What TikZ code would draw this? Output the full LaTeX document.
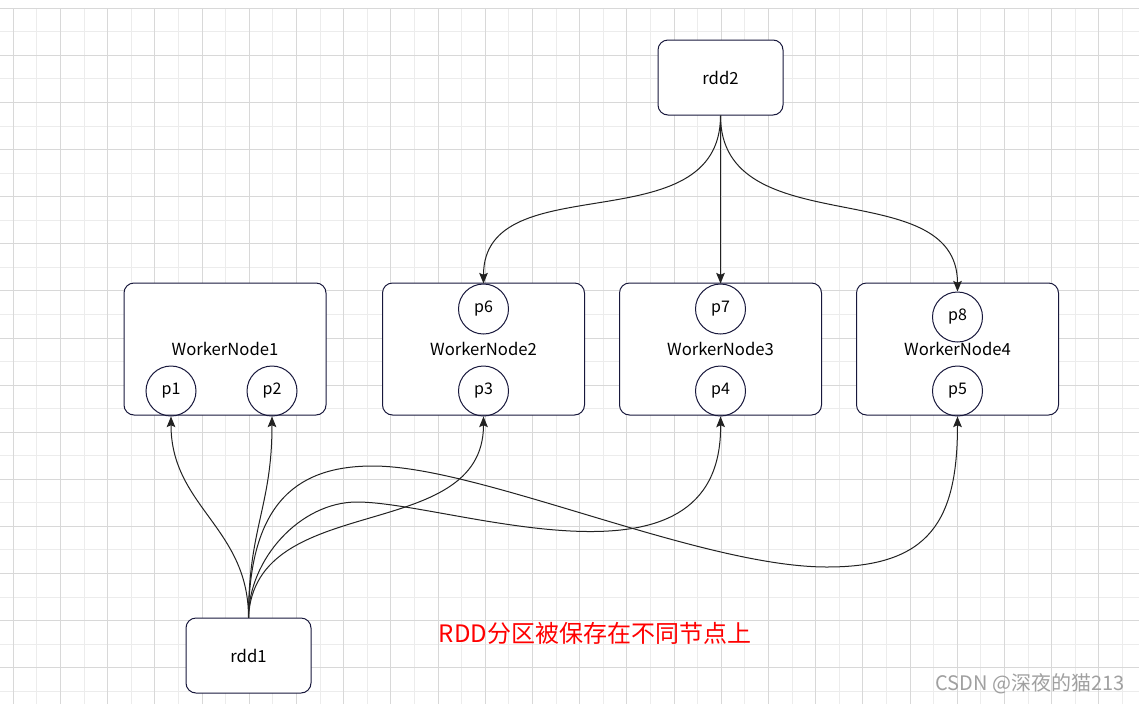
\documentclass[tikz,border=0pt]{standalone}
\usepackage{fontspec}
\setmainfont{Noto Sans CJK SC}
\usetikzlibrary{arrows.meta}
\definecolor{gridminor}{RGB}{236,236,236}
\definecolor{gridmajor}{RGB}{216,216,216}
\definecolor{boxline}{RGB}{24,24,60}
\definecolor{linkline}{RGB}{34,34,34}
\definecolor{notered}{RGB}{255,0,0}
\definecolor{markgray}{RGB}{160,160,160}
\tikzset{
  worker/.style={draw=boxline, fill=white, rounded corners=7.5pt, line width=0.75pt,
    minimum width=151.5pt, minimum height=99pt, inner sep=0pt,
    font=\fontsize{12.5}{15}\selectfont},
  rddbox/.style={worker, minimum width=93.75pt, minimum height=56.25pt},
  part/.style={circle, draw=boxline, line width=0.75pt, minimum size=37.5pt,
    inner sep=0pt, font=\fontsize{12}{14}\selectfont},
  link/.style={draw=linkline, line width=0.75pt, -{Stealth[length=8pt,width=6.5pt,inset=1.5pt]}},
}

\begin{document}
\begin{tikzpicture}[x=0.75pt,y=-0.75pt]
    \useasboundingbox[fill=white] (0,0) rectangle (1139,704);
    % grid
    \foreach \i in {0,...,47}
        \draw[gridminor,line width=0.75pt] ({13.3+23.6*\i},8.3) -- ({13.3+23.6*\i},704);
    \foreach \j in {0,...,29}
        \draw[gridminor,line width=0.75pt] (0,{8.3+23.55*\j}) -- (1139,{8.3+23.55*\j});
    \foreach \i in {0,...,23}
        \draw[gridmajor,line width=0.75pt] ({13.3+47.2*\i},8.3) -- ({13.3+47.2*\i},704);
    \foreach \j in {0,...,14}
        \draw[gridmajor,line width=0.75pt] (0,{8.3+47.1*\j}) -- (1139,{8.3+47.1*\j});

    \node[rddbox] (rdd2) at (720.5,77.5) {rdd2};
    \node[rddbox] (rdd1) at (248.5,655.5) {rdd1};

    \node[worker] (wn1) at (225,349) {WorkerNode1};
    \node[worker] (wn2) at (483.5,349) {WorkerNode2};
    \node[worker] (wn3) at (720.5,349) {WorkerNode3};
    \node[worker] (wn4) at (957.5,349) {WorkerNode4};

    \node[part] (p1) at (171,391) {p1};
    \node[part] (p2) at (272,391) {p2};
    \node[part] (p3) at (483.5,391) {p3};
    \node[part] (p6) at (483.5,309) {p6};
    \node[part] (p4) at (720.5,391) {p4};
    \node[part] (p7) at (720.5,309) {p7};
    \node[part] (p5) at (957.5,391) {p5};
    \node[part] (p8) at (957.5,317) {p8};

    \coordinate (top4) at (357,502);
    \coordinate (top5) at (373,466);
    \coordinate (low5) at (827,567);

    \draw[link] (rdd2.south) .. controls +(0,130) and +(0,-120) .. (p6.north);
    \draw[link] (rdd2.south) -- (p7.north);
    \draw[link] (rdd2.south) .. controls +(0,130) and +(0,-120) .. (p8.north);

    \draw[link] (rdd1.north) .. controls +(0,-90) and +(0,90) .. (p1.south);
    \draw[link] (rdd1.north) .. controls +(0,-90) and +(0,90) .. (p2.south);
    \draw[link] (rdd1.north) .. controls +(6,-128) and +(0,129) .. (p3.south);
    \draw[link] (rdd1.north) .. controls +(0,-58) and +(-57,0) .. (top4)
        .. controls +(93,0) and +(2,189) .. (p4.south);
    \draw[link] (rdd1.north) .. controls +(1,-118) and +(-73,0) .. (top5)
        .. controls +(107,0) and +(-127,0) .. (low5)
        .. controls +(103,0) and +(0,104) .. (p5.south);

    \node[text=notered, font=\fontsize{18}{21}\selectfont] (note) at (595,633) {RDD分区被保存在不同节点上};
    \node[text=markgray, font=\fontsize{15}{18}\selectfont] (mark) at (1030,684) {CSDN @深夜的猫213};
\end{tikzpicture}
\end{document}
